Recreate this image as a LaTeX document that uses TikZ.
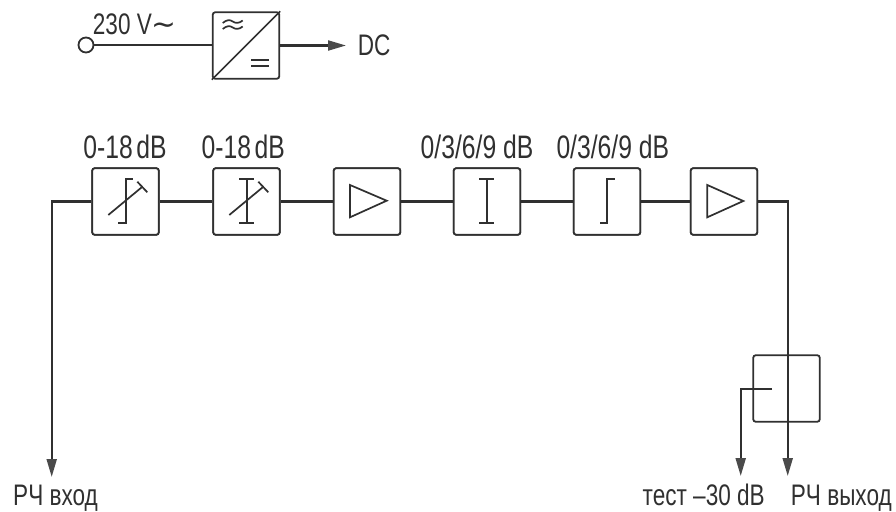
\documentclass[tikz,border=0pt]{standalone}
\usepackage{fontspec}
\setmainfont[FakeStretch=0.76]{Liberation Sans}
\newfontfamily\symfont[FakeStretch=1]{DejaVu Sans}
\usetikzlibrary{arrows.meta}
\definecolor{ink}{HTML}{303030}
\definecolor{headc}{HTML}{4A4A4A}
\tikzset{
  blockbox/.style={draw=ink,line width=1.8pt,rounded corners=2.5pt,minimum width=66.5pt,minimum height=66.5pt,inner sep=0pt,fill=white},
  openbox/.style={draw=ink,line width=1.8pt,rounded corners=2.5pt,minimum width=66.5pt,minimum height=66.5pt,inner sep=0pt},
  conn/.style={draw=ink,line width=2.1pt},
  arrowconn/.style={draw=ink,line width=2.1pt,-{Triangle[length=18pt,width=10pt,color=headc]}},
  sym/.style={draw=ink,line width=1.7pt},
  lbl/.style={font=\fontsize{32.5}{33}\selectfont,text=ink,inner sep=0pt,anchor=base},
  lblw/.style={font=\fontsize{29.7}{30}\selectfont,text=ink,inner sep=0pt,anchor=base west},
}
\begin{document}
\begin{tikzpicture}[x=1pt,y=-1pt]
\useasboundingbox (0,0) rectangle (896,511);
% power supply
\node[draw=ink,line width=1.8pt,circle,minimum size=15pt,inner sep=0pt] (ac) at (86,45) {};
\node[blockbox] (psu) at (246,45.5) {};
\coordinate (dc) at (346,45.5);
\draw[conn] (ac) -- (ac -| psu.west);
\draw[arrowconn] (psu.east) -- (dc);
\draw[sym] (psu.south west) -- (psu.north east);
\draw[sym] (222.7,23) .. controls (227,19.5) and (230,19.5) .. (232.7,21.5) .. controls (235.5,23.5) and (239,23.5) .. (242.7,20.5);
\draw[sym] (222.7,29) .. controls (227,25.5) and (230,25.5) .. (232.7,27.5) .. controls (235.5,29.5) and (239,29.5) .. (242.7,26.5);
\draw[sym] (251,60) -- (269.3,60) (251,65.7) -- (269.3,65.7);
\node[lblw] (acl) at (92.7,35) {230 V{\symfont ∼}};
\node[lblw] (dcl) at (357.7,56) {DC};
% blocks
\node[blockbox] (b1) at (125.5,201.5) {};
\node[blockbox] (b2) at (246.5,201.5) {};
\node[blockbox] (b3) at (367,201.5) {};
\node[blockbox] (b4) at (487,201.5) {};
\node[blockbox] (b5) at (607,201.5) {};
\node[blockbox] (b6) at (724,201.5) {};
\node[openbox] (cpl) at (786.5,388.5) {};
\coordinate (inn) at (51.7,477);
\coordinate (outm) at (787.7,476);
\coordinate (tapstart) at (772,388.7);
\coordinate (tapend) at (740.7,476);
\draw[arrowconn] (b1.west) -| (inn);
\draw[conn] (b1) -- (b2);
\draw[conn] (b2) -- (b3);
\draw[conn] (b3) -- (b4);
\draw[conn] (b4) -- (b5);
\draw[conn] (b5) -- (b6);
\draw[arrowconn] (b6.east) -| (outm);
\draw[arrowconn] (tapstart) -| (tapend);
\node[blockbox] at (b1) {};
\node[blockbox] at (b2) {};
\node[blockbox] at (b3) {};
\node[blockbox] at (b4) {};
\node[blockbox] at (b5) {};
\node[blockbox] at (b6) {};
% symbols
\draw[sym] (132.7,179) -- (126.3,179) -- (126.3,222.7) -- (118.3,222.7);
\draw[sym] (108.3,215) -- (141.7,187.3);
\draw[sym] (137.3,181.7) -- (147.3,192.3);
\draw[sym] (239.3,179) -- (254,179) (246.7,179) -- (246.7,222.7) (239.3,222.7) -- (254,222.7);
\draw[sym] (229.3,215) -- (262.7,187.3);
\draw[sym] (258.3,181.7) -- (268.3,192.3);
\draw[sym] (350,185) -- (386.7,200.7) -- (350,217.3) -- cycle;
\draw[sym] (479.3,179) -- (494,179) (486.7,179) -- (486.7,222.7) (479.3,222.7) -- (494,222.7);
\draw[sym] (614.7,179) -- (607,179) -- (607,222.7) -- (600,222.7);
\draw[sym] (707.3,185) -- (743.3,201) -- (707.3,217.3) -- cycle;
% labels
\node[lbl] (l1) at (125,158.3) {0-18\kern3.5pt dB};
\node[lbl] (l2) at (243.3,158.3) {0-18\kern3.5pt dB};
\node[lbl] (l3) at (477,158.3) {0/3/6/9 dB};
\node[lbl] (l4) at (612.8,158.3) {0/3/6/9 dB};
\node[lblw] (in) at (13,505) {РЧ вход};
\node[lblw] (tst) at (642.5,505) {тест –30 dB};
\node[lblw] (out) at (790.7,505) {РЧ выход};
\end{tikzpicture}
\end{document}
